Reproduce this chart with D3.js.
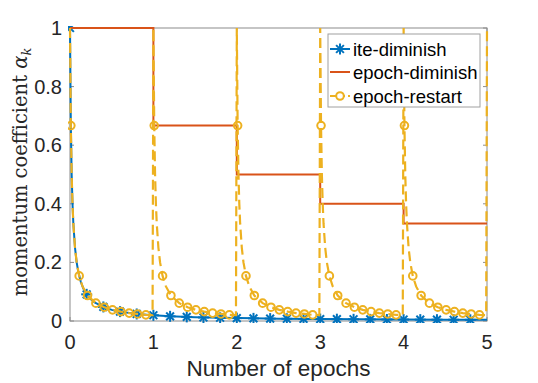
<!DOCTYPE html>
<html>
<head>
<meta charset="utf-8">
<script src="https://cdn.jsdelivr.net/npm/d3@7"></script>
<style>
  body { margin: 0; background: #fff; }
  svg { display: block; }
</style>
</head>
<body>
<div id="chart"></div>
<script>
// values
const epochs = [0, 1, 2, 3, 4];
const xTicks = [0, 1, 2, 3, 4, 5];
const yTicks = [0, 0.2, 0.4, 0.6, 0.8, 1];
const yTickLabels = ["0", "0.2", "0.4", "0.6", "0.8", "1"];

// ite-diminish line
const iteX = [0, 0.01, 0.02, 0.03, 0.04, 0.06, 0.08, 0.1, 0.13, 0.16, 0.2, 0.25, 0.3, 0.4, 0.5, 0.6, 0.8, 1, 1.2, 1.5, 2, 2.5, 3, 3.5, 4, 4.5, 5];
const iteY = [1, 0.667, 0.5, 0.4, 0.333, 0.25, 0.2, 0.167, 0.133, 0.111, 0.091, 0.074, 0.0625, 0.048, 0.038, 0.032, 0.024, 0.0196, 0.016, 0.013, 0.01, 0.008, 0.0066, 0.0057, 0.005, 0.0044, 0.004];
// ite-diminish markers
const iteMarkX = [0, 0.2, 0.4, 0.6, 0.8, 1, 1.2, 1.4, 1.6, 1.8, 2, 2.2, 2.4, 2.6, 2.8, 3, 3.2, 3.4, 3.6, 3.8, 4, 4.2, 4.4, 4.6, 4.8];
const iteMarkY = [1, 0.091, 0.048, 0.032, 0.024, 0.0196, 0.016, 0.014, 0.012, 0.011, 0.0099, 0.009, 0.0082, 0.0076, 0.0071, 0.0066, 0.0062, 0.0058, 0.0055, 0.0052, 0.005, 0.0047, 0.0045, 0.0043, 0.0041];

// epoch-diminish, one value per epoch
const epochVals = [1, 0.667, 0.5, 0.4, 0.333];

// epoch-restart, shape inside one epoch (repeats every epoch)
const restartStep = [0, 0.01, 0.02, 0.03, 0.04, 0.06, 0.08, 0.11, 0.15, 0.21, 0.31, 0.41, 0.51, 0.61, 0.71, 0.81, 0.91, 0.99];
const restartVal = [1, 0.667, 0.5, 0.4, 0.333, 0.25, 0.2, 0.154, 0.118, 0.087, 0.061, 0.047, 0.038, 0.032, 0.027, 0.024, 0.021, 0.02];
const restartMarkStep = [0.01, 0.11, 0.21, 0.31, 0.41, 0.51, 0.61, 0.71, 0.81, 0.91];
const restartMarkVal = [0.667, 0.154, 0.087, 0.061, 0.047, 0.038, 0.032, 0.027, 0.024, 0.021];
const restartEnd = {x: 5, y: 1};

const seriesNames = ["ite-diminish", "epoch-diminish", "epoch-restart"];
const colors = ["#0072BD", "#D95319", "#EDB120"];

const W = 538, H = 383;
const margin = {top: 28, right: 51, bottom: 62, left: 70};
const width = W - margin.left - margin.right;
const height = H - margin.top - margin.bottom;

const svg = d3.select("#chart").append("svg")
    .attr("width", W)
    .attr("height", H);

const g = svg.append("g")
    .attr("transform", `translate(${margin.left},${margin.top})`);

const x = d3.scaleLinear().domain([0, 5]).range([0, width]);
const y = d3.scaleLinear().domain([0, 1]).range([height, 0]);

const axisColor = "#8c8c8c";
const textColor = "#262626";
const tickFont = "Liberation Sans, Arial, sans-serif";

// ticks inside, on all four sides
g.append("g").selectAll("line.xb").data(xTicks).enter().append("line")
    .attr("x1", d => x(d)).attr("x2", d => x(d))
    .attr("y1", height).attr("y2", height - 4)
    .attr("stroke", axisColor);
g.append("g").selectAll("line.xt").data(xTicks).enter().append("line")
    .attr("x1", d => x(d)).attr("x2", d => x(d))
    .attr("y1", 0).attr("y2", 4)
    .attr("stroke", axisColor);
g.append("g").selectAll("line.yl").data(yTicks).enter().append("line")
    .attr("x1", 0).attr("x2", 4)
    .attr("y1", d => y(d)).attr("y2", d => y(d))
    .attr("stroke", axisColor);
g.append("g").selectAll("line.yr").data(yTicks).enter().append("line")
    .attr("x1", width).attr("x2", width - 4)
    .attr("y1", d => y(d)).attr("y2", d => y(d))
    .attr("stroke", axisColor);

g.append("rect")
    .attr("width", width).attr("height", height)
    .attr("fill", "none")
    .attr("stroke", axisColor);

// tick labels
g.selectAll(".xlab").data(xTicks).enter().append("text")
    .attr("class", "xlab")
    .attr("x", d => x(d))
    .attr("y", height + 28)
    .attr("text-anchor", "middle")
    .style("font-family", tickFont)
    .style("font-size", "20px")
    .style("fill", textColor)
    .text(d => d);

g.selectAll(".ylab").data(yTicks).enter().append("text")
    .attr("class", "ylab")
    .attr("x", -8)
    .attr("y", d => y(d) + 7)
    .attr("text-anchor", "end")
    .style("font-family", tickFont)
    .style("font-size", "20px")
    .style("fill", textColor)
    .text((d, i) => yTickLabels[i]);

// axis titles
svg.append("text")
    .attr("x", margin.left + width / 2)
    .attr("y", 376)
    .attr("text-anchor", "middle")
    .style("font-family", tickFont)
    .style("font-size", "22.5px")
    .style("fill", textColor)
    .text("Number of epochs");

const ylab = svg.append("text")
    .attr("transform", `translate(27, 172) rotate(-90)`)
    .attr("text-anchor", "middle")
    .style("font-family", "DejaVu Serif, serif")
    .style("font-size", "19.5px")
    .style("fill", textColor);
ylab.append("tspan").text("momentum coefficient ");
ylab.append("tspan").style("font-style", "italic").text("α");
ylab.append("tspan").style("font-style", "italic").style("font-size", "13px").attr("dy", 4).text("k");

// clip to plot box
svg.append("defs").append("clipPath").attr("id", "clip")
    .append("rect").attr("x", -2).attr("y", -2).attr("width", width + 4).attr("height", height + 4);
const plot = g.append("g").attr("clip-path", "url(#clip)");

const line = d3.line().x(d => x(d.x)).y(d => y(d.y));

// asterisk marker
function star(sel, cx, cy, r, color) {
    const s = sel.append("g").attr("transform", `translate(${cx},${cy})`)
        .attr("stroke", color).attr("stroke-width", 2);
    [0, 45, 90, 135].forEach(a => {
        const t = a * Math.PI / 180;
        s.append("line")
            .attr("x1", -r * Math.cos(t)).attr("y1", -r * Math.sin(t))
            .attr("x2", r * Math.cos(t)).attr("y2", r * Math.sin(t));
    });
}

// ite-diminish
const itePts = iteX.map((d, i) => ({x: d, y: iteY[i]}));
plot.append("path").datum(itePts)
    .attr("d", line)
    .attr("fill", "none")
    .attr("stroke", colors[0])
    .attr("stroke-width", 2);
iteMarkX.forEach((d, i) => star(plot, x(d), y(iteMarkY[i]), 5.5, colors[0]));

// epoch-diminish (step)
const epochPts = epochs.map((e, i) => ({x: e, y: epochVals[i]}));
epochPts.push({x: 5, y: epochVals[epochVals.length - 1]});
plot.append("path").datum(epochPts)
    .attr("d", d3.line().x(d => x(d.x)).y(d => y(d.y)).curve(d3.curveStepAfter))
    .attr("fill", "none")
    .attr("stroke", colors[1])
    .attr("stroke-width", 2);

// epoch-restart
const restartPts = [];
epochs.forEach(e => {
    restartStep.forEach((s, i) => restartPts.push({x: e + s, y: restartVal[i]}));
});
restartPts.push(restartEnd);
plot.append("path").datum(restartPts)
    .attr("d", line)
    .attr("fill", "none")
    .attr("stroke", colors[2])
    .attr("stroke-width", 2.2)
    .attr("stroke-dasharray", "10,5");

const restartMarks = [];
epochs.forEach(e => {
    restartMarkStep.forEach((s, i) => restartMarks.push({x: e + s, y: restartMarkVal[i]}));
});
plot.selectAll(".rm").data(restartMarks).enter().append("circle")
    .attr("class", "rm")
    .attr("cx", d => x(d.x))
    .attr("cy", d => y(d.y))
    .attr("r", 3.8)
    .attr("fill", "none")
    .attr("stroke", colors[2])
    .attr("stroke-width", 2);

// legend
const leg = svg.append("g").attr("transform", "translate(328,34)");
leg.append("rect")
    .attr("width", 152).attr("height", 73)
    .attr("fill", "#fff")
    .attr("stroke", "#a0a0a0");
const rowY = [15, 38, 62];
seriesNames.forEach((name, i) => {
    const r = leg.append("g").attr("transform", `translate(0,${rowY[i]})`);
    r.append("line")
        .attr("x1", 2).attr("x2", 22)
        .attr("stroke", colors[i]).attr("stroke-width", 2)
        .attr("stroke-dasharray", i == 2 ? "6,3" : null);
    if (i == 0) star(r, 12, 0, 5.5, colors[0]);
    if (i == 2) r.append("circle").attr("cx", 12).attr("r", 3.8)
        .attr("fill", "#fff").attr("stroke", colors[2]).attr("stroke-width", 2);
    r.append("text")
        .attr("x", 25).attr("y", 6.5)
        .style("font-family", tickFont)
        .style("font-size", "18.5px")
        .style("fill", "#000")
        .text(name);
});
</script>
</body>
</html>
